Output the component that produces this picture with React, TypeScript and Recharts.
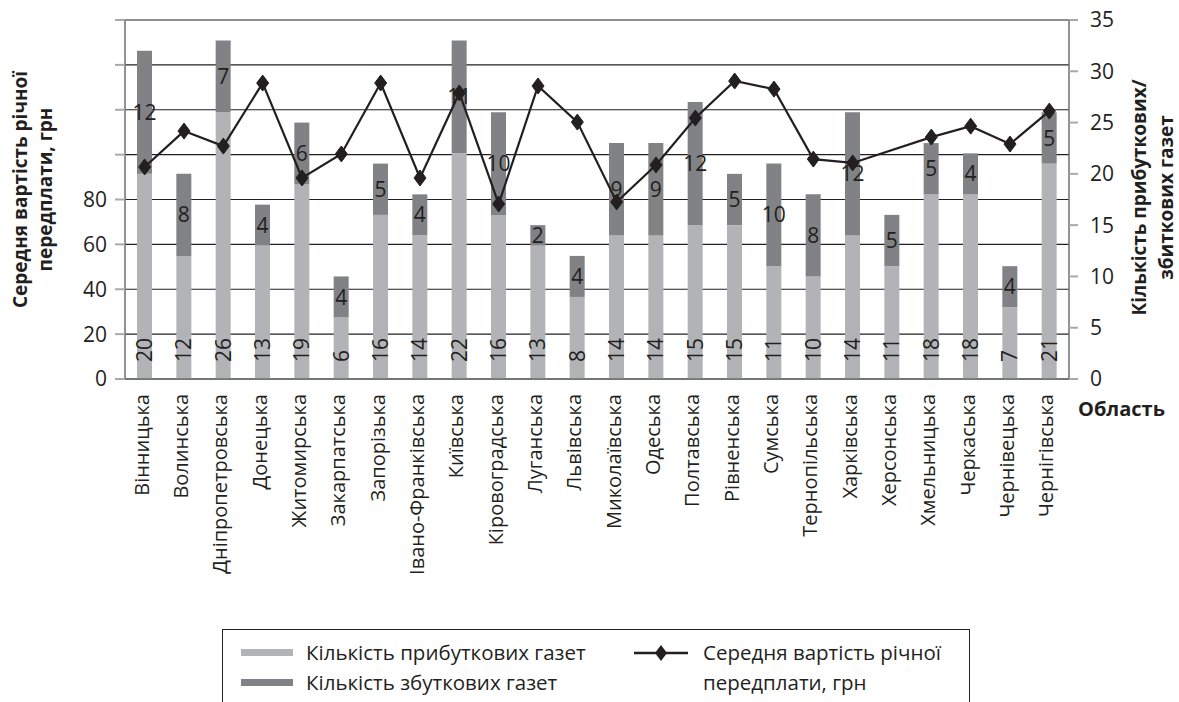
import React from 'react';
import {
  ComposedChart,
  Bar,
  Line,
  XAxis,
  YAxis,
  CartesianGrid,
  LabelList,
  Legend,
} from 'recharts';

const regions = [
  'Вінницька', 'Волинська', 'Дніпропетровська', 'Донецька', 'Житомирська',
  'Закарпатська', 'Запорізька', 'Івано-Франківська', 'Київська', 'Кіровоградська',
  'Луганська', 'Львівська', 'Миколаївська', 'Одеська', 'Полтавська',
  'Рівненська', 'Сумська', 'Тернопільська', 'Харківська', 'Херсонська',
  'Хмельницька', 'Черкаська', 'Чернівецька', 'Чернігівська',
];
const profitable = [20, 12, 26, 13, 19, 6, 16, 14, 22, 16, 13, 8, 14, 14, 15, 15, 11, 10, 14, 11, 18, 18, 7, 21];
const unprofitable = [12, 8, 7, 4, 6, 4, 5, 4, 11, 10, 2, 4, 9, 9, 12, 5, 10, 8, 12, 5, 5, 4, 4, 5];
const avgCost: (number | null)[] = [
  94.5, 110.5, 103.8, 131.9, 89.6, 100.3, 131.9, 89.6, 127.5, 78,
  130.6, 114.5, 78.9, 95.4, 116.3, 132.8, 129.2, 98, 96.3, null,
  107.8, 112.7, 104.7, 119.4,
];
const leftTicks = [0, 20, 40, 60, 80, 100, 120, 140, 160];
const leftLabelMax = 80;
const rightTicks = [0, 5, 10, 15, 20, 25, 30, 35];
const boundaryTicks = Array.from({ length: regions.length + 1 }, (_, i) => i);

const NAME_PROFIT = 'Кількість прибуткових газет';
const NAME_LOSS = 'Кількість збуткових газет';
const NAME_COST = 'Середня вартість річної передплати, грн';

const data = regions.map((region, i) => ({
  region,
  idx: i,
  profit: profitable[i],
  loss: unprofitable[i],
  cost: avgCost[i],
}));

const INK = '#231f20';
const LIGHT = '#b1b3b6';
const DARK = '#808285';
const TICK_GREY = '#a7a9ac';
const AXIS_GREY = '#6d6e71';
const FONT = '"Open Sans", "Noto Sans", sans-serif';

const ProfitLabel = (props: any) => {
  const { x, y, width, height, value } = props;
  const cx = x + width / 2;
  const by = y + height - 17;
  return (
    <text
      x={cx}
      y={by}
      transform={`rotate(-90, ${cx}, ${by})`}
      textAnchor="start"
      dy="0.36em"
      fontSize={21}
      fill={INK}
      fontFamily={FONT}
    >
      {value}
    </text>
  );
};

const LossLabel = (props: any) => {
  const { x, y, width, height, value } = props;
  return (
    <text
      x={x + width / 2}
      y={y + height / 2}
      textAnchor="middle"
      dy="0.36em"
      fontSize={21}
      fill={INK}
      fontFamily={FONT}
    >
      {value}
    </text>
  );
};

const CategoryTick = (props: any) => {
  const { x, y, payload } = props;
  const ty = y + 7;
  return (
    <text
      x={x}
      y={ty}
      transform={`rotate(-90, ${x}, ${ty})`}
      textAnchor="end"
      dy="0.2em"
      fontSize={20}
      fill={INK}
      fontFamily={FONT}
    >
      {payload.value}
    </text>
  );
};

const Diamond = (props: any) => {
  const { cx, cy, index } = props;
  if (cx == null || cy == null || props.value == null) return <g key={`d-${index}`} />;
  return (
    <polygon
      key={`d-${index}`}
      points={`${cx},${cy - 8} ${cx + 6},${cy} ${cx},${cy + 8} ${cx - 6},${cy}`}
      fill={INK}
      stroke={INK}
    />
  );
};

const LeftTitle = (props: any) => {
  const vb = props.viewBox || {};
  const cy = (vb.y ?? 20) + (vb.height ?? 359) / 2 - 10;
  const x1 = 27;
  const x2 = 52;
  return (
    <g fontFamily={FONT} fontWeight="bold" fontSize={19} fill={INK}>
      <text x={x1} y={cy} transform={`rotate(-90, ${x1}, ${cy})`} textAnchor="middle">
        Середня вартість річної
      </text>
      <text x={x2} y={cy} transform={`rotate(-90, ${x2}, ${cy})`} textAnchor="middle">
        передплати, грн
      </text>
    </g>
  );
};

const RightTitle = (props: any) => {
  const vb = props.viewBox || {};
  const cy = (vb.y ?? 20) + (vb.height ?? 359) / 2 - 2;
  const x1 = 1146;
  const x2 = 1173;
  return (
    <g fontFamily={FONT} fontWeight="bold" fontSize={19} fill={INK}>
      <text x={x1} y={cy} transform={`rotate(-90, ${x1}, ${cy})`} textAnchor="middle">
        Кількість прибуткових/
      </text>
      <text x={x2} y={cy} transform={`rotate(-90, ${x2}, ${cy})`} textAnchor="middle">
        збиткових газет
      </text>
    </g>
  );
};

const AxisName = (props: any) => {
  const vb = props.viewBox || {};
  const x = (vb.x ?? 125) + (vb.width ?? 944) + 9;
  const y = (vb.y ?? 379) + 37;
  return (
    <text x={x} y={y} fontFamily={FONT} fontWeight="bold" fontSize={20} fill={INK}>
      Область
    </text>
  );
};

const LegendBox = (props: any) => {
  const payload: any[] = props.payload || [];
  const find = (name: string) => payload.find((p) => p.value === name) || { value: name, color: INK };
  const p1 = find(NAME_PROFIT);
  const p2 = find(NAME_LOSS);
  const textStyle: React.CSSProperties = {
    position: 'absolute',
    fontSize: 20.5,
    lineHeight: '30px',
    color: INK,
    whiteSpace: 'nowrap',
    fontFamily: FONT,
  };
  return (
    <div
      style={{
        position: 'relative',
        width: 748,
        height: 110,
        border: `1.5px solid ${INK}`,
        boxSizing: 'border-box',
        background: '#fff',
      }}
    >
      <div style={{ position: 'absolute', left: 18, top: 19, width: 52, height: 7, background: p1.color }} />
      <div style={{ ...textStyle, left: 83, top: 7 }}>{p1.value}</div>
      <div style={{ position: 'absolute', left: 18, top: 49, width: 52, height: 7, background: p2.color }} />
      <div style={{ ...textStyle, left: 83, top: 37 }}>{p2.value}</div>
      <svg style={{ position: 'absolute', left: 409, top: 11 }} width={58} height={24}>
        <line x1={2} y1={12} x2={56} y2={12} stroke={INK} strokeWidth={2.5} />
        <polygon points="29,4 35,12 29,20 23,12" fill={INK} />
      </svg>
      <div style={{ ...textStyle, left: 480, top: 7 }}>
        Середня вартість річної
        <br />
        передплати, грн
      </div>
    </div>
  );
};

export default function App() {
  return (
    <div
      style={{
        position: 'absolute',
        left: 0,
        top: 0,
        width: 1179,
        height: 702,
        overflow: 'hidden',
        background: '#fff',
      }}
    >
      <ComposedChart
        width={1179}
        height={702}
        data={data}
        margin={{ top: 12, right: 0, bottom: 0, left: 0 }}
        style={{ fontFamily: FONT }}
      >
        <CartesianGrid
          xAxisId="cat"
          yAxisId="left"
          vertical={false}
          stroke={INK}
          strokeWidth={1.2}
        />
        <XAxis
          xAxisId="top"
          orientation="top"
          type="number"
          dataKey="idx"
          domain={[0, regions.length]}
          allowDataOverflow
          ticks={boundaryTicks}
          interval={0}
          height={8}
          tick={false}
          tickSize={8}
          tickLine={{ stroke: TICK_GREY, strokeWidth: 2 }}
          axisLine={false}
        />
        <XAxis
          xAxisId="bottomTicks"
          orientation="bottom"
          type="number"
          dataKey="idx"
          domain={[0, regions.length]}
          allowDataOverflow
          ticks={boundaryTicks}
          interval={0}
          height={8}
          tick={false}
          tickSize={9}
          tickLine={{ stroke: TICK_GREY, strokeWidth: 2 }}
          axisLine={{ stroke: AXIS_GREY, strokeWidth: 1.5 }}
          label={<AxisName />}
        />
        <XAxis
          xAxisId="cat"
          dataKey="region"
          type="category"
          interval={0}
          height={315}
          tickLine={false}
          axisLine={false}
          tickSize={0}
          tickMargin={0}
          tick={<CategoryTick />}
        />
        <YAxis
          yAxisId="left"
          orientation="left"
          domain={[0, 160]}
          ticks={leftTicks}
          interval={0}
          width={125}
          tickSize={10}
          tickMargin={8}
          tickLine={{ stroke: TICK_GREY, strokeWidth: 2 }}
          axisLine={{ stroke: AXIS_GREY, strokeWidth: 1.5 }}
          tick={{ fill: INK, fontSize: 21, fontFamily: FONT }}
          tickFormatter={(v: number) => (v <= leftLabelMax ? String(v) : '')}
          label={<LeftTitle />}
        />
        <YAxis
          yAxisId="right"
          orientation="right"
          domain={[0, 35]}
          ticks={rightTicks}
          interval={0}
          width={110}
          tickSize={9}
          tickMargin={12}
          tickLine={{ stroke: TICK_GREY, strokeWidth: 2 }}
          axisLine={{ stroke: AXIS_GREY, strokeWidth: 1.5 }}
          tick={{ fill: INK, fontSize: 21, fontFamily: FONT, textAnchor: 'start' }}
          label={<RightTitle />}
        />
        <Bar
          xAxisId="cat"
          yAxisId="right"
          dataKey="profit"
          name={NAME_PROFIT}
          stackId="s"
          fill={LIGHT}
          barSize={15}
          isAnimationActive={false}
        >
          <LabelList dataKey="profit" content={<ProfitLabel />} />
        </Bar>
        <Bar
          xAxisId="cat"
          yAxisId="right"
          dataKey="loss"
          name={NAME_LOSS}
          stackId="s"
          fill={DARK}
          barSize={15}
          isAnimationActive={false}
        >
          <LabelList dataKey="loss" content={<LossLabel />} />
        </Bar>
        <Line
          xAxisId="cat"
          yAxisId="left"
          dataKey="cost"
          name={NAME_COST}
          type="linear"
          stroke={INK}
          strokeWidth={2.2}
          dot={<Diamond />}
          activeDot={false}
          connectNulls
          isAnimationActive={false}
        />
        <Legend
          layout="horizontal"
          verticalAlign="middle"
          align="center"
          content={<LegendBox />}
          wrapperStyle={{ left: 222, top: 629, width: 748, height: 110 }}
        />
      </ComposedChart>
    </div>
  );
}
